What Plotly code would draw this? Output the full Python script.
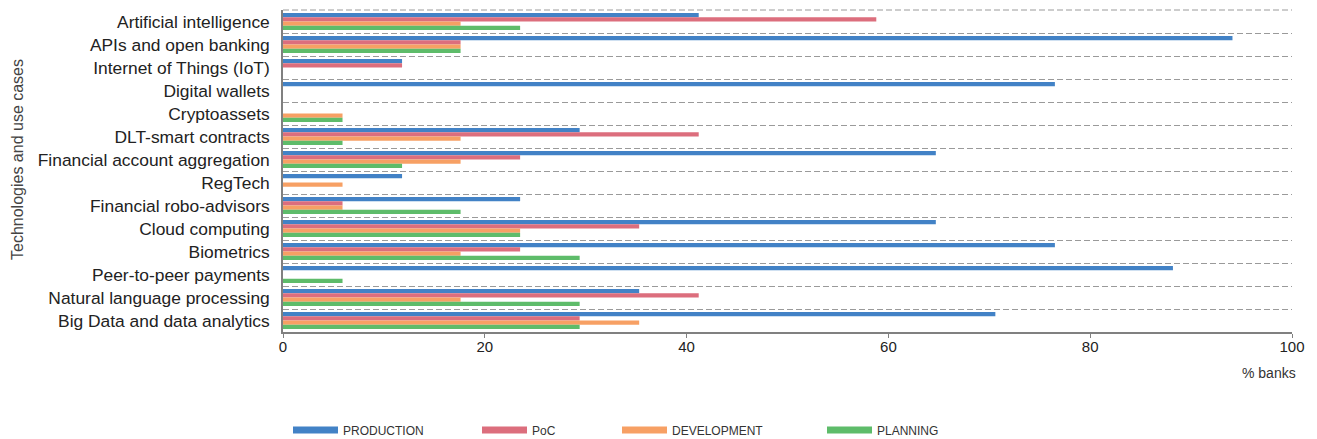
import plotly.graph_objects as go

categories = [
    "Artificial intelligence",
    "APIs and open banking",
    "Internet of Things (IoT)",
    "Digital wallets",
    "Cryptoassets",
    "DLT-smart contracts",
    "Financial account aggregation",
    "RegTech",
    "Financial robo-advisors",
    "Cloud computing",
    "Biometrics",
    "Peer-to-peer payments",
    "Natural language processing",
    "Big Data and data analytics",
]

production = [41.2, 94.1, 11.8, 76.5, 0, 29.4, 64.7, 11.8, 23.5, 64.7, 76.5, 88.2, 35.3, 70.6]
poc = [58.8, 17.6, 11.8, 0, 0, 41.2, 23.5, 0, 5.9, 35.3, 23.5, 0, 41.2, 29.4]
development = [17.6, 17.6, 0, 0, 5.9, 17.6, 17.6, 5.9, 5.9, 23.5, 17.6, 0, 17.6, 35.3]
planning = [23.5, 17.6, 0, 0, 5.9, 5.9, 11.8, 0, 17.6, 23.5, 29.4, 5.9, 29.4, 29.4]

series_names = ["PRODUCTION", "PoC", "DEVELOPMENT", "PLANNING"]
series_values = [production, poc, development, planning]
colors = ["#4282c6", "#dc6e7d", "#f7a064", "#5ebc6a"]
legend_ids = ["legend", "legend2", "legend3", "legend4"]

# the page body adds an 8px offset; work in figure pixels
OFF = 8
W, H = 1317 - 2 * OFF, 439 - OFF
PL, PR, PT, PB = 283 - OFF, 1292 - OFF, 10 - OFF, 332 - OFF
legend_px = [280, 469, 609, 814]
legend_py = 422
FONT = "Liberation Sans, Arial, Helvetica, sans-serif"


def px_to_paper(sx, sy):
    fx, fy = sx - OFF, sy - OFF
    return (fx - PL) / (PR - PL), (PB - fy) / (PB - PT)


fig = go.Figure()
for name, vals, col in zip(series_names, series_values, colors):
    fig.add_trace(go.Bar(
        x=vals, y=categories, orientation="h", name=name,
        marker=dict(color=col, line=dict(width=0)),
        showlegend=False,
    ))
# legend-only entries with wide swatches
for name, col, lid in zip(series_names, colors, legend_ids):
    fig.add_trace(go.Scatter(
        x=[None], y=[None], mode="lines", name=name,
        line=dict(color=col, width=7), legend=lid, showlegend=True,
        hoverinfo="skip",
    ))

legend_common = dict(
    orientation="h", xref="container", yref="container",
    xanchor="left", yanchor="middle", itemwidth=45,
    font=dict(family=FONT, size=12, color="#333333"),
    bgcolor="rgba(0,0,0,0)", borderwidth=0,
)
legend_layout = {}
for lid, px in zip(legend_ids, legend_px):
    legend_layout[lid] = dict(legend_common, x=px / W, y=1 - legend_py / H)

fig.update_layout(
    width=W, height=H,
    margin=dict(l=PL, r=W - PR, t=PT, b=H - PB, autoexpand=False),
    paper_bgcolor="white", plot_bgcolor="white",
    barmode="group", bargap=0.26, bargroupgap=0,
    font=dict(family=FONT, color="#222222"),
    **legend_layout,
)

fig.update_xaxes(
    range=[0, 100], tickvals=[0, 20, 40, 60, 80, 100],
    showgrid=False, zeroline=False, automargin=False,
    showline=True, linecolor="#808080", linewidth=1.5,
    ticks="outside", ticklen=4, tickcolor="#808080", tickwidth=1,
    ticklabelstandoff=-4,
    tickfont=dict(family=FONT, size=15, color="#222222"),
)
fig.update_yaxes(
    range=[13.5, -0.5], type="category", tickson="boundaries",
    showgrid=True, gridcolor="#9a9a9a", gridwidth=1, griddash="6px,3px",
    showline=True, linecolor="#808080", linewidth=1.5, automargin=False,
    ticks="", ticklabelstandoff=8,
    tickfont=dict(family=FONT, size=17.4, color="#222222"),
)

# top boundary gridline (same style as the category gridlines)
fig.add_shape(
    type="line", xref="paper", yref="paper", x0=0, x1=1, y0=1, y1=1,
    line=dict(color="#9a9a9a", width=1, dash="6px,3px"), layer="below",
)

tx, ty = px_to_paper(17, 160)
fig.add_annotation(
    text="Technologies and use cases", xref="paper", yref="paper",
    x=tx, y=ty, xanchor="center", yanchor="middle", textangle=-90,
    showarrow=False, font=dict(family=FONT, size=16, color="#444444"),
)
bx, by = px_to_paper(1298, 373)
fig.add_annotation(
    text="% banks", xref="paper", yref="paper", x=bx, y=by,
    xanchor="right", yanchor="middle", showarrow=False,
    font=dict(family=FONT, size=14, color="#333333"),
)

fig.write_html("out.html")
